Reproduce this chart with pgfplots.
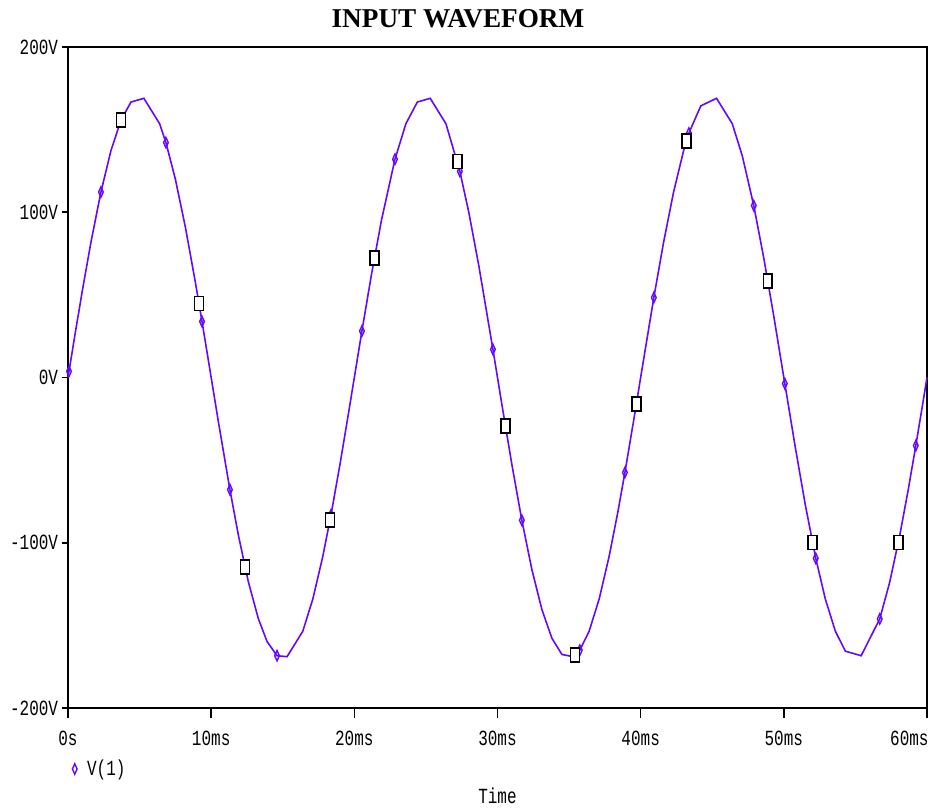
\documentclass[border=0pt]{standalone}
\usepackage{pgfplots}
\pgfplotsset{compat=1.18}
\usepackage{fontspec}
\setmainfont{Liberation Serif}
\newfontfamily\monofont{Liberation Mono}
\definecolor{trace}{RGB}{100,8,255}
\newcommand{\tickfont}{\monofont\fontsize{10pt}{10pt}\selectfont}
\newcommand{\mono}[1]{\scalebox{0.8}[1.08]{\tickfont #1}}

% V(1): transient samples (time in ms, volts)
\pgfplotstableread{
t v
0 0
0.07 3.73
0.5 26.55
1.0 52.44
1.6 81.75
2.3 112.22
3.0 137.29
3.7 155.74
4.4 166.69
5.3 168.95
6.4 153.55
6.84 142.16
7.5 120.00
8.2 90.93
8.9 57.48
9.36 33.89
9.9 5.33
10.5 -26.55
11.31 -67.88
11.9 -95.38
12.6 -123.71
13.3 -146.07
13.9 -159.67
14.6 -168.36
15.3 -168.95
16.4 -153.55
17.1 -134.09
17.8 -108.17
18.37 -83.15
19.0 -52.44
19.6 -21.27
20.0 0
20.53 28.12
21.2 62.47
21.9 95.38
22.84 132.10
23.6 153.55
24.4 166.69
25.3 168.95
26.4 153.55
27.37 124.78
28.0 99.75
28.7 67.40
29.68 17.03
30.3 -15.97
31.0 -52.44
31.7 -86.38
32.4 -116.17
33.1 -140.36
33.8 -157.78
34.5 -167.61
35.3 -168.95
35.75 -165.01
36.4 -153.55
37.1 -134.09
37.8 -108.17
38.4 -81.75
38.9 -57.48
39.5 -26.55
40.1 5.33
40.92 48.37
41.6 81.75
42.3 112.22
43.0 137.29
43.37 147.91
44.2 164.37
45.3 168.95
46.4 153.55
47.1 134.09
47.9 104.01
48.6 72.25
49.3 37.02
50.07 -3.73
50.8 -42.20
51.5 -77.04
52.23 -109.41
52.9 -134.09
53.6 -153.55
54.3 -165.61
55.4 -168.36
56.7 -146.07
57.4 -123.71
58.1 -95.38
58.7 -67.40
59.22 -41.17
59.7 -15.97
60.0 0
}\vone

% trace symbols (diamonds)
\pgfplotstableread{
t v
0.07 3.73
2.30 112.22
6.84 142.16
9.36 33.89
11.31 -67.88
14.60 -168.36
18.37 -83.15
20.53 28.12
22.84 132.10
27.37 124.78
29.68 17.03
31.70 -86.38
35.75 -165.01
38.90 -57.48
40.92 48.37
43.37 147.91
47.90 104.01
50.07 -3.73
52.23 -109.41
56.70 -146.07
59.22 -41.17
}\diamonds

% sample markers (squares)
\pgfplotstableread{
t v
3.70 155.74
9.15 44.78
12.36 -114.60
18.30 -86.38
21.40 72.25
27.20 130.76
30.55 -29.18
35.41 -168.00
39.70 -15.97
43.20 143.28
48.88 58.49
52.00 -99.75
58.00 -99.75
}\squares

\begin{document}
\begin{tikzpicture}
\path[use as bounding box] (-34pt,-50pt) rectangle (431.5pt,354pt);
\begin{axis}[
  at={(0,0)}, anchor=south west,
  scale only axis, width=429.5pt, height=330.5pt,
  xmin=0, xmax=60, ymin=-200, ymax=200,
  axis line style={line width=1pt},
  tick align=outside, xtick pos=bottom, ytick pos=left,
  xtick={0,10,20,30,40,50},
  xticklabels={\mono{0s},\mono{10ms},\mono{20ms},\mono{30ms},\mono{40ms},\mono{50ms}},
  extra x ticks={60},
  extra x tick labels={\mono{60ms}},
  extra x tick style={xticklabel style={anchor=north east, xshift=1pt}},
  ytick={-200,-100,0,100,200},
  yticklabels={\mono{-200V},\mono{-100V},\mono{0V},\mono{100V},\mono{200V}},
  xtick style={black, line width=0.75pt, /pgfplots/major tick length=5pt},
  ytick style={black, line width=0.75pt, /pgfplots/major tick length=3pt},
  xticklabel style={anchor=north, yshift=-7pt, inner sep=0pt},
  yticklabel style={anchor=east, xshift=-0.5pt, inner sep=0pt},
  xlabel={\mono{Time}},
  xlabel style={at={(axis description cs:0.5,0)}, anchor=center, yshift=-44pt},
  title={\fontsize{13.6pt}{14pt}\selectfont\bfseries INPUT WAVEFORM},
  title style={at={(axis description cs:0.454,1)}, anchor=center, yshift=8pt},
  legend style={draw=none, fill=none, at={(axis description cs:0,0)}, anchor=west,
    xshift=2pt, yshift=-30.5pt, inner sep=0pt, font=\tickfont,
    legend cell align=left},
  clip=false,
]
\addplot[trace, line width=0.8pt, forget plot] table[x=t, y=v] {\vone};
\addplot[only marks, mark=diamond, mark size=2.6pt,
  mark options={trace, xscale=0.6, line width=0.7pt}] table[x=t, y=v] {\diamonds};
\addlegendentry{\hspace{3pt}\scalebox{0.8}[1.08]{V(1)}}
\addplot[only marks, mark=square*, mark size=3.5pt,
  mark options={draw=black, fill=white, xscale=0.64, line width=0.8pt}, forget plot]
  table[x=t, y=v] {\squares};
\end{axis}
\end{tikzpicture}
\end{document}
